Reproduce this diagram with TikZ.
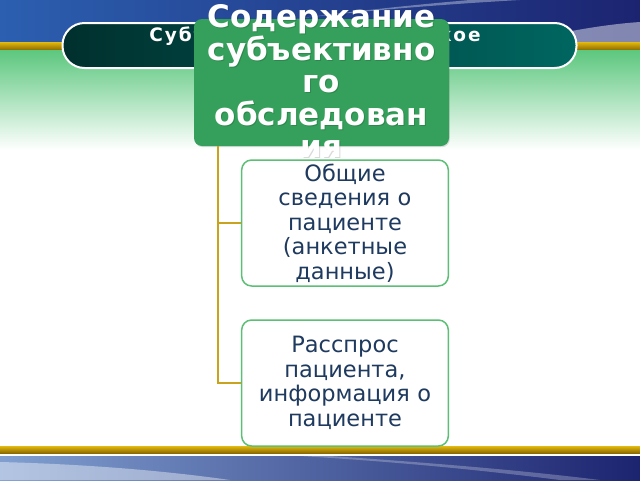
\documentclass[tikz,border=0pt]{standalone}
\usepackage{fontspec}
\setmainfont{DejaVu Sans}
\usetikzlibrary{positioning,shadows}

\definecolor{mainGreen}{HTML}{35A05B}
\definecolor{edgeGreen}{HTML}{5CBF75}
\definecolor{textBlue}{HTML}{1F3A5F}
\definecolor{trunkGold}{HTML}{C9A21E}
\definecolor{barDark}{HTML}{00302E}
\definecolor{barTeal}{HTML}{006660}
\definecolor{bandBlue}{HTML}{2C5FB0}
\definecolor{bandNavy}{HTML}{1C2470}
\definecolor{goldTop}{HTML}{E2BA10}
\definecolor{goldBot}{HTML}{8C6A00}
\definecolor{fadeGreen}{HTML}{5CC77E}

\tikzset{
  childbox/.style={draw=edgeGreen, line width=1.5pt, fill=white,
    rounded corners=10pt, minimum width=204pt, minimum height=126pt,
    text width=200pt, align=center, text=textBlue,
    font=\fontsize{22.5}{24.5}\selectfont},
  headbox/.style={fill=mainGreen, rounded corners=8pt,
    minimum width=255pt, minimum height=127pt,
    drop shadow={opacity=0.25, shadow xshift=0.8pt, shadow yshift=-1.2pt}},
  headtext/.style={align=center, text=white, inner sep=0pt,
    font=\fontsize{31}{32.5}\bfseries\selectfont},
  titlebar/.style={draw=white, line width=2pt, rounded corners=22pt,
    left color=barDark, right color=barTeal,
    minimum width=514pt, minimum height=45pt},
  branch/.style={draw=trunkGold, line width=1.5pt},
}

\begin{document}
\begin{tikzpicture}[x=1pt,y=-1pt]
  % page and background bands
  \useasboundingbox (0,0) rectangle (640,480);
  \fill[white] (0,0) rectangle (640,480);
  \shade[left color=bandBlue, right color=bandNavy] (0,0) rectangle (640,42);
  \fill[white, opacity=0.35] (140,42) .. controls (260,20) and (380,8) .. (520,0)
    -- (470,0) .. controls (330,12) and (230,28) .. (120,42) -- cycle;
  \fill[white, opacity=0.45] (520,42) .. controls (570,30) and (610,24) .. (640,22)
    -- (640,42) -- cycle;
  \shade[top color=goldTop, bottom color=goldBot] (0,42) rectangle (640,50);
  \shade[top color=fadeGreen, bottom color=white] (0,50) rectangle (640,150);
  \shade[top color=goldTop, bottom color=goldBot] (0,446) rectangle (640,453);
  \shade[left color=bandBlue!60!white, right color=bandNavy] (0,456) rectangle (640,480);
  \fill[white, opacity=0.4] (0,462) .. controls (80,464) and (160,470) .. (230,480)
    -- (0,480) -- cycle;
  \fill[white, opacity=0.25] (330,456) .. controls (420,462) and (520,470) .. (600,480)
    -- (560,480) .. controls (480,470) and (400,462) .. (300,456) -- cycle;

  % title bar
  \node[titlebar] (bar) at (319.5,45.5) {};
  \node[align=center, text=white,
    font=\fontsize{18.5}{20}\bfseries\selectfont\addfontfeature{LetterSpace=10}]
    (bartext) at (315,45) {Субъективное сестринское\\обследование};

  % child boxes
  \node[childbox] (info) at (345,223)
    {Общие\\сведения о\\пациенте\\(анкетные\\данные)};
  \node[childbox] (talk) at (345,383)
    {Расспрос\\пациента,\\информация о\\пациенте};

  % head box
  \node[headbox] (head) at (321.5,82.5) {};
  \coordinate[xshift=24pt] (trunk) at (head.south west);
  \draw[branch] (trunk) |- (info.west);
  \draw[branch] (trunk) |- (talk.west);

  % head text, spilling out of the box
  \node[headtext, text=black, opacity=0.15] at (322.5,82)
    {Содержание\\субъективно\\го\\обследован\\ия};
  \node[headtext] (headtext) at (321.5,81)
    {Содержание\\субъективно\\го\\обследован\\ия};
\end{tikzpicture}
\end{document}
